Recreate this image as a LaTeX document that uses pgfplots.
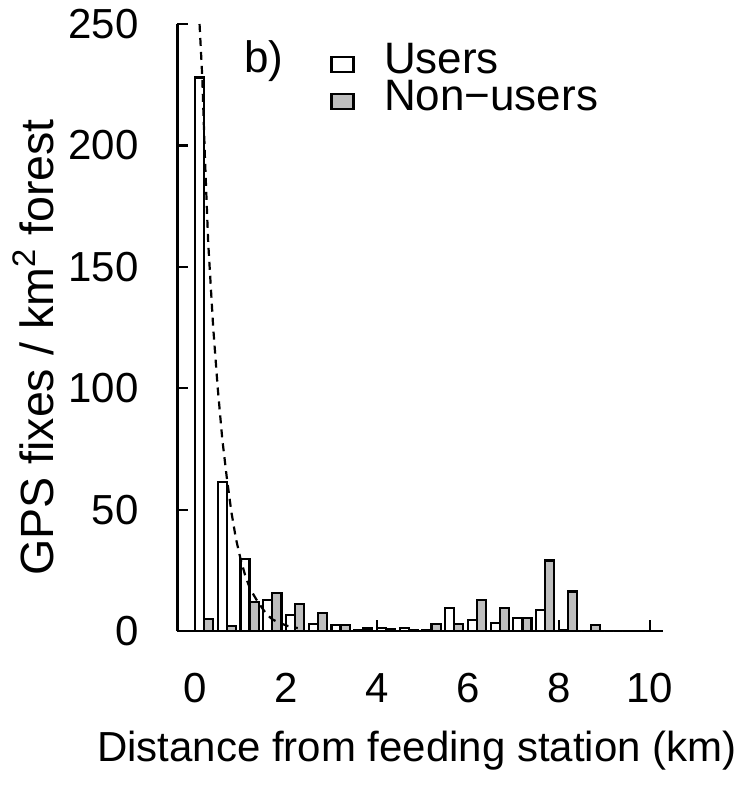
\documentclass[border=0pt]{standalone}
\usepackage{fontspec}
\setmainfont{Liberation Sans}
\usepackage{pgfplots}
\pgfplotsset{compat=1.18}
\definecolor{rgray}{RGB}{190,190,190}
\newcommand{\tickf}{\fontsize{21}{25}\selectfont}
\newcommand{\legf}{\fontsize{22}{26}\selectfont}
\newcommand{\ylabf}{\fontsize{23.3}{28}\selectfont}
\pgfplotsset{
    sq legend/.style={legend image code/.code={%
        \draw[##1, line width=1.1pt] (0pt,-7pt) rectangle (11pt,0.5pt);}},
    rbar/.style={ybar, bar width=0.2, bar shift=0pt, draw=black, line width=1.1pt, sq legend},
}

\begin{document}
\begin{tikzpicture}
\useasboundingbox (-88.75pt,-78.5pt) rectangle (281.25pt,315.5pt);
\begin{axis}[
    scale only axis,
    width=242.75pt, height=303.5pt,
    xmin=-0.385, xmax=10.29,
    ymin=0, ymax=250,
    axis x line*=bottom, axis y line*=left,
    axis line style={line width=1.1pt, -},
    tick align=inside,
    major tick length=5.5pt,
    tick style={line width=1.1pt, black},
    xtick={0,2,...,10}, ytick={0,50,...,250},
    /pgf/number format/assume math mode=true,
    tick label style={font=\tickf, inner sep=0pt},
    xticklabel style={anchor=center, yshift=-28.5pt},
    yticklabel style={anchor=east, xshift=-19.25pt},
    xlabel={Distance from feeding station (km)},
    ylabel={GPS fixes / km\textsuperscript{2} forest},
    every axis x label/.style={font=\tickf, at={(axis description cs:0.493,-0.2158)}, anchor=base, inner sep=0pt},
    every axis y label/.style={font=\ylabf, rotate=90, at={(axis description cs:-0.2544,0.467)}, anchor=base, inner sep=0pt},
    clip=false,
    legend cell align=left,
    legend style={draw=none, fill=none, font=\legf,
        at={(axis description cs:0.3141,0.9704)}, anchor=north west,
        inner sep=0pt, column sep=14.75pt, row sep=3pt,
        nodes={inner sep=0pt, text height=15.5pt, text depth=0pt}},
]

% users
\addplot[rbar, fill=white]
coordinates {(0.1,228) (0.6,61.5) (1.1,29.8) (1.6,12.8) (2.1,6.6) (2.6,2.9) (3.1,2.5)
    (3.6,0.5) (4.1,1.3) (4.6,1.4) (5.1,0.4) (5.6,9.4) (6.1,4.5) (6.6,3.3) (7.1,5.5)
    (7.6,8.8) (8.1,0.2) (8.6,0) (9.1,0) (9.6,0)};
\addlegendentry{Users}

% non-users
\addplot[rbar, fill=rgray]
coordinates {(0.3,5) (0.8,2) (1.3,12) (1.8,15.7) (2.3,11.2) (2.8,7.4) (3.3,2.5)
    (3.8,1) (4.3,0.8) (4.8,0.3) (5.3,2.8) (5.8,3) (6.3,12.8) (6.8,9.6) (7.3,5.5)
    (7.8,29) (8.3,16.3) (8.8,2.5) (9.3,0) (9.8,0)};
\addlegendentry{Non−users}

% fitted decay curve
\addplot[black, line width=1.1pt, dash pattern=on 4pt off 3pt, forget plot]
coordinates {(0.10,250) (0.16,228) (0.22,194) (0.29,160) (0.40,125) (0.50,100)
    (0.60,79) (0.70,63) (0.80,49) (0.90,38) (1.00,29.8) (1.10,23.1) (1.21,17.4)
    (1.38,12) (1.57,7) (1.70,4.8) (1.86,3.3) (2.05,2) (2.26,1.2)};

\node[font=\legf, anchor=base, inner sep=0pt] at (axis description cs:0.178,0.9193) {b)};
\end{axis}
\end{tikzpicture}
\end{document}
